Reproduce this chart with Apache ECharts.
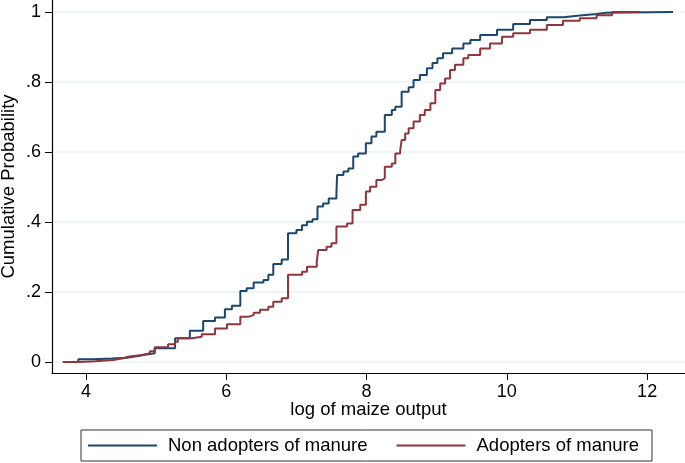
<!DOCTYPE html>
<html>
<head>
<meta charset="utf-8">
<script src="https://cdn.jsdelivr.net/npm/echarts@6/dist/echarts.min.js"></script>
<style>
html,body{margin:0;padding:0;background:#fff;}
#chart{width:685px;height:463px;}
</style>
</head>
<body>
<div id="chart"></div>
<script>
// Empirical CDF step points: x (log of maize output), y (cumulative probability)
var nonAdoptersX = [3.67,3.89,4.09,4.37,4.58,4.74,4.84,4.98,5.27,5.48,5.67,5.84,5.98,6.08,6.20,6.29,6.39,6.53,6.60,6.67,6.79,6.88,7.00,7.08,7.15,7.23,7.30,7.38,7.46,7.57,7.58,7.67,7.74,7.81,7.88,7.99,8.07,8.14,8.26,8.36,8.41,8.50,8.60,8.67,8.76,8.86,8.94,9.01,9.09,9.22,9.38,9.48,9.62,9.86,10.09,10.33,10.57,10.81,11.04,11.28,11.42,12.37];
var nonAdoptersY = [0.000,0.008,0.010,0.012,0.017,0.021,0.025,0.039,0.068,0.089,0.117,0.127,0.151,0.161,0.203,0.211,0.227,0.234,0.249,0.280,0.293,0.368,0.377,0.391,0.401,0.408,0.444,0.453,0.467,0.482,0.534,0.544,0.553,0.587,0.596,0.625,0.644,0.658,0.706,0.720,0.729,0.772,0.785,0.806,0.820,0.839,0.854,0.868,0.882,0.896,0.910,0.920,0.934,0.949,0.966,0.977,0.985,0.990,0.994,0.998,1.000,1.000];
var adoptersX = [3.67,3.89,4.13,4.39,4.53,4.60,4.80,4.91,4.98,5.17,5.27,5.31,5.51,5.65,5.84,6.01,6.20,6.31,6.39,6.48,6.60,6.67,6.79,6.88,7.08,7.15,7.29,7.31,7.43,7.50,7.57,7.72,7.80,7.91,7.99,8.05,8.14,8.22,8.26,8.36,8.41,8.48,8.50,8.55,8.60,8.67,8.76,8.83,8.91,8.98,9.05,9.12,9.19,9.26,9.38,9.45,9.62,9.76,9.93,10.09,10.33,10.57,10.80,11.04,11.28,11.50,11.90];
var adoptersY = [0.000,0.002,0.006,0.011,0.015,0.020,0.025,0.031,0.042,0.051,0.058,0.068,0.072,0.079,0.096,0.108,0.129,0.134,0.141,0.149,0.158,0.172,0.182,0.249,0.258,0.272,0.287,0.320,0.329,0.339,0.387,0.396,0.434,0.449,0.487,0.501,0.520,0.525,0.558,0.567,0.596,0.606,0.634,0.653,0.668,0.687,0.706,0.720,0.739,0.777,0.796,0.810,0.834,0.849,0.868,0.877,0.896,0.910,0.929,0.939,0.949,0.963,0.975,0.982,0.991,1.000,1.000];
var xTicks = [4, 6, 8, 10, 12];
var yTicks = [0, 0.2, 0.4, 0.6, 0.8, 1];
var seriesNames = ['Non adopters of manure', 'Adopters of manure'];

function zip(xs, ys) { return xs.map(function (x, i) { return [x, ys[i]]; }); }

var FONT = 'Liberation Sans, Arial, sans-serif';
var chart = echarts.init(document.getElementById('chart'), null, {renderer: 'canvas'});
chart.setOption({
  animation: false,
  backgroundColor: '#ffffff',
  textStyle: {fontFamily: FONT},
  grid: {left: 52, right: 0, top: 0, bottom: 90, containLabel: false, outerBoundsMode: 'none'},
  xAxis: {
    type: 'value', min: 3.515, max: 12.54,
    name: 'log of maize output', nameLocation: 'middle', nameGap: 27, nameMoveOverlap: false,
    nameTextStyle: {fontSize: 18.5, color: '#000', fontFamily: FONT},
    axisLine: {show: true, onZero: false, lineStyle: {color: '#000', width: 1.2}},
    axisTick: {show: true, length: 7, customValues: xTicks, lineStyle: {color: '#000', width: 1}},
    axisLabel: {customValues: xTicks, margin: 10, fontSize: 18, color: '#000', fontFamily: FONT},
    splitLine: {show: false}
  },
  yAxis: {
    type: 'value', min: -0.0314, max: 1.0343,
    name: 'Cumulative Probability', nameLocation: 'middle', nameGap: 34, nameRotate: 90, nameMoveOverlap: false,
    nameTextStyle: {fontSize: 18.5, color: '#000', fontFamily: FONT},
    axisLine: {show: true, onZero: false, lineStyle: {color: '#000', width: 1.2}},
    axisTick: {show: true, length: 7, customValues: yTicks, lineStyle: {color: '#000', width: 1}},
    axisLabel: {customValues: yTicks, margin: 11, fontSize: 18, color: '#000', fontFamily: FONT,
      formatter: function (v) {
        var s = (Math.round(v * 10) / 10).toString();
        return s.replace(/^0\./, '.');
      }},
    splitLine: {show: true, lineStyle: {color: '#eaf2f3', width: 1.5}}
  },
  legend: {
    left: 81, top: 430,
    orient: 'horizontal',
    data: seriesNames.map(function (n) { return {name: n, icon: 'rect'}; }),
    itemWidth: 69, itemHeight: 2, itemGap: 29, itemTextGap: 6,
    padding: [6, 13, 6, 7],
    borderColor: '#333', borderWidth: 1,
    textStyle: {fontSize: 18.5, color: '#000', fontFamily: FONT, padding: [2, 0, 0, 6]}
  },
  series: [
    {
      name: seriesNames[0], type: 'line', step: 'end', showSymbol: false, symbol: 'none',
      data: zip(nonAdoptersX, nonAdoptersY),
      lineStyle: {color: '#1a476f', width: 2}, itemStyle: {color: '#1a476f'}
    },
    {
      name: seriesNames[1], type: 'line', step: 'end', showSymbol: false, symbol: 'none',
      data: zip(adoptersX, adoptersY),
      lineStyle: {color: '#90353b', width: 2}, itemStyle: {color: '#90353b'}
    }
  ]
});
</script>
</body>
</html>
